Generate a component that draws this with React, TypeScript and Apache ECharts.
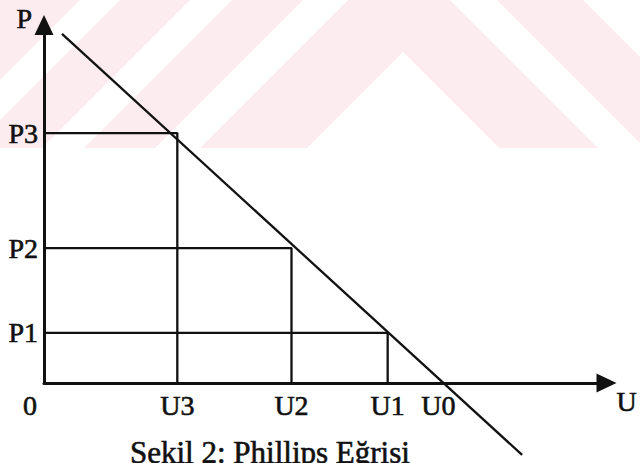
import React, { useEffect, useRef } from "react";
import * as echarts from "echarts";

// Abstract axis positions (0..100 scale)
const xTickNames = ["0", "U3", "U2", "U1", "U0"];
const xTickValues = [0, 23.7, 44.0, 61.1, 70.1];
const yTickNames = ["P1", "P2", "P3"];
const yTickValues = [14.0, 37.7, 69.8];

// Corners of the guide rectangles (U, P)
const cornerU = [23.7, 44.0, 61.1];
const cornerP = [69.8, 37.7, 14.0];

// Phillips curve end points
const curveU = [3.2, 85.0];
const curveP = [97.5, -20.1];

const FONT = "'Liberation Serif', 'Times New Roman', serif";
const INK = "#111";
const PINK = "#fcecef";

const txt = { fontFamily: FONT, fontSize: 28, color: INK, textBorderColor: INK, textBorderWidth: 0.6 };

function nameFor(v: number, vals: number[], names: string[]) {
  const i = vals.findIndex((a) => Math.abs(a - v) < 1e-6);
  return i >= 0 ? names[i] : "";
}

export default function App() {
  const ref = useRef<HTMLDivElement>(null);
  useEffect(() => {
    const chart = echarts.init(ref.current!, null, { renderer: "svg" });

    const guideSeries = cornerU.map((u, i) => ({
      type: "line",
      data: [
        [0, cornerP[i]],
        [u, cornerP[i]],
        [u, 0],
      ],
      symbol: "none",
      silent: true,
      lineStyle: { color: INK, width: 2.3 },
      z: 3,
    }));

    const white = { fill: "#ffffff" };
    chart.setOption({
      animation: false,
      backgroundColor: "#ffffff",
      graphic: [
        { type: "rect", z: -10, silent: true, shape: { x: 0, y: 0, width: 640, height: 148 }, style: { fill: PINK } },
        { type: "polygon", z: -9, silent: true, shape: { points: [[303, 0], [348, 0], [200, 148], [155, 148]] }, style: white },
        { type: "polygon", z: -9, silent: true, shape: { points: [[190, 0], [232, 0], [84, 148], [42, 148]] }, style: white },
        { type: "polygon", z: -9, silent: true, shape: { points: [[80, 0], [120, 0], [0, 120], [0, 80]] }, style: white },
        { type: "polygon", z: -9, silent: true, shape: { points: [[450, 0], [497, 0], [640, 143], [640, 148], [598, 148]] }, style: white },
        { type: "polygon", z: -9, silent: true, shape: { points: [[403, 52], [307, 148], [499, 148]] }, style: white },
        { type: "polygon", z: -9, silent: true, shape: { points: [[583, 0], [640, 0], [640, 57]] }, style: white },
      ],
      title: {
        text: "Sekil 2: Phillips Eğrisi",
        left: 130,
        top: 437,
        padding: 0,
        textStyle: { ...txt, fontSize: 31, fontWeight: "normal" },
      },
      grid: { left: 44, right: 30, top: 25, bottom: 80, containLabel: false },
      xAxis: {
        type: "value",
        min: 0,
        max: 100,
        name: "U",
        nameLocation: "end",
        nameGap: 10,
        nameTextStyle: { ...txt, align: "left", verticalAlign: "top", padding: [4, 0, 0, 0] },
        axisLine: { show: true, onZero: false, symbol: ["none", "triangle"], symbolSize: [19, 20], lineStyle: { color: INK, width: 3 } },
        axisTick: { show: false },
        splitLine: { show: false },
        axisLabel: {
          customValues: xTickValues,
          margin: 8,
          ...txt,
          formatter: (v: number) => {
            const n = nameFor(v, xTickValues, xTickNames);
            return n === "0" ? "{z|0}" : n;
          },
          rich: { z: { ...txt, padding: [0, 28, 0, 0] } },
        },
      },
      yAxis: {
        type: "value",
        min: 0,
        max: 100,
        name: "P",
        nameLocation: "end",
        nameGap: 7,
        nameTextStyle: { ...txt, align: "right", verticalAlign: "middle", padding: [0, 12, 0, 0] },
        axisLine: { show: true, onZero: false, symbol: ["none", "triangle"], symbolSize: [19, 20], lineStyle: { color: INK, width: 3 } },
        axisTick: { show: false },
        splitLine: { show: false },
        axisLabel: {
          customValues: yTickValues,
          margin: 6,
          ...txt,
          formatter: (v: number) => nameFor(v, yTickValues, yTickNames),
        },
      },
      series: [
        ...guideSeries,
        {
          type: "line",
          data: curveU.map((u, i) => [u, curveP[i]]),
          symbol: "none",
          clip: false,
          silent: true,
          lineStyle: { color: INK, width: 2.3 },
          z: 4,
        },
      ],
    });
    return () => chart.dispose();
  }, []);
  return <div ref={ref} style={{ position: "fixed", left: 0, top: 0, width: 640, height: 463 }} />;
}
